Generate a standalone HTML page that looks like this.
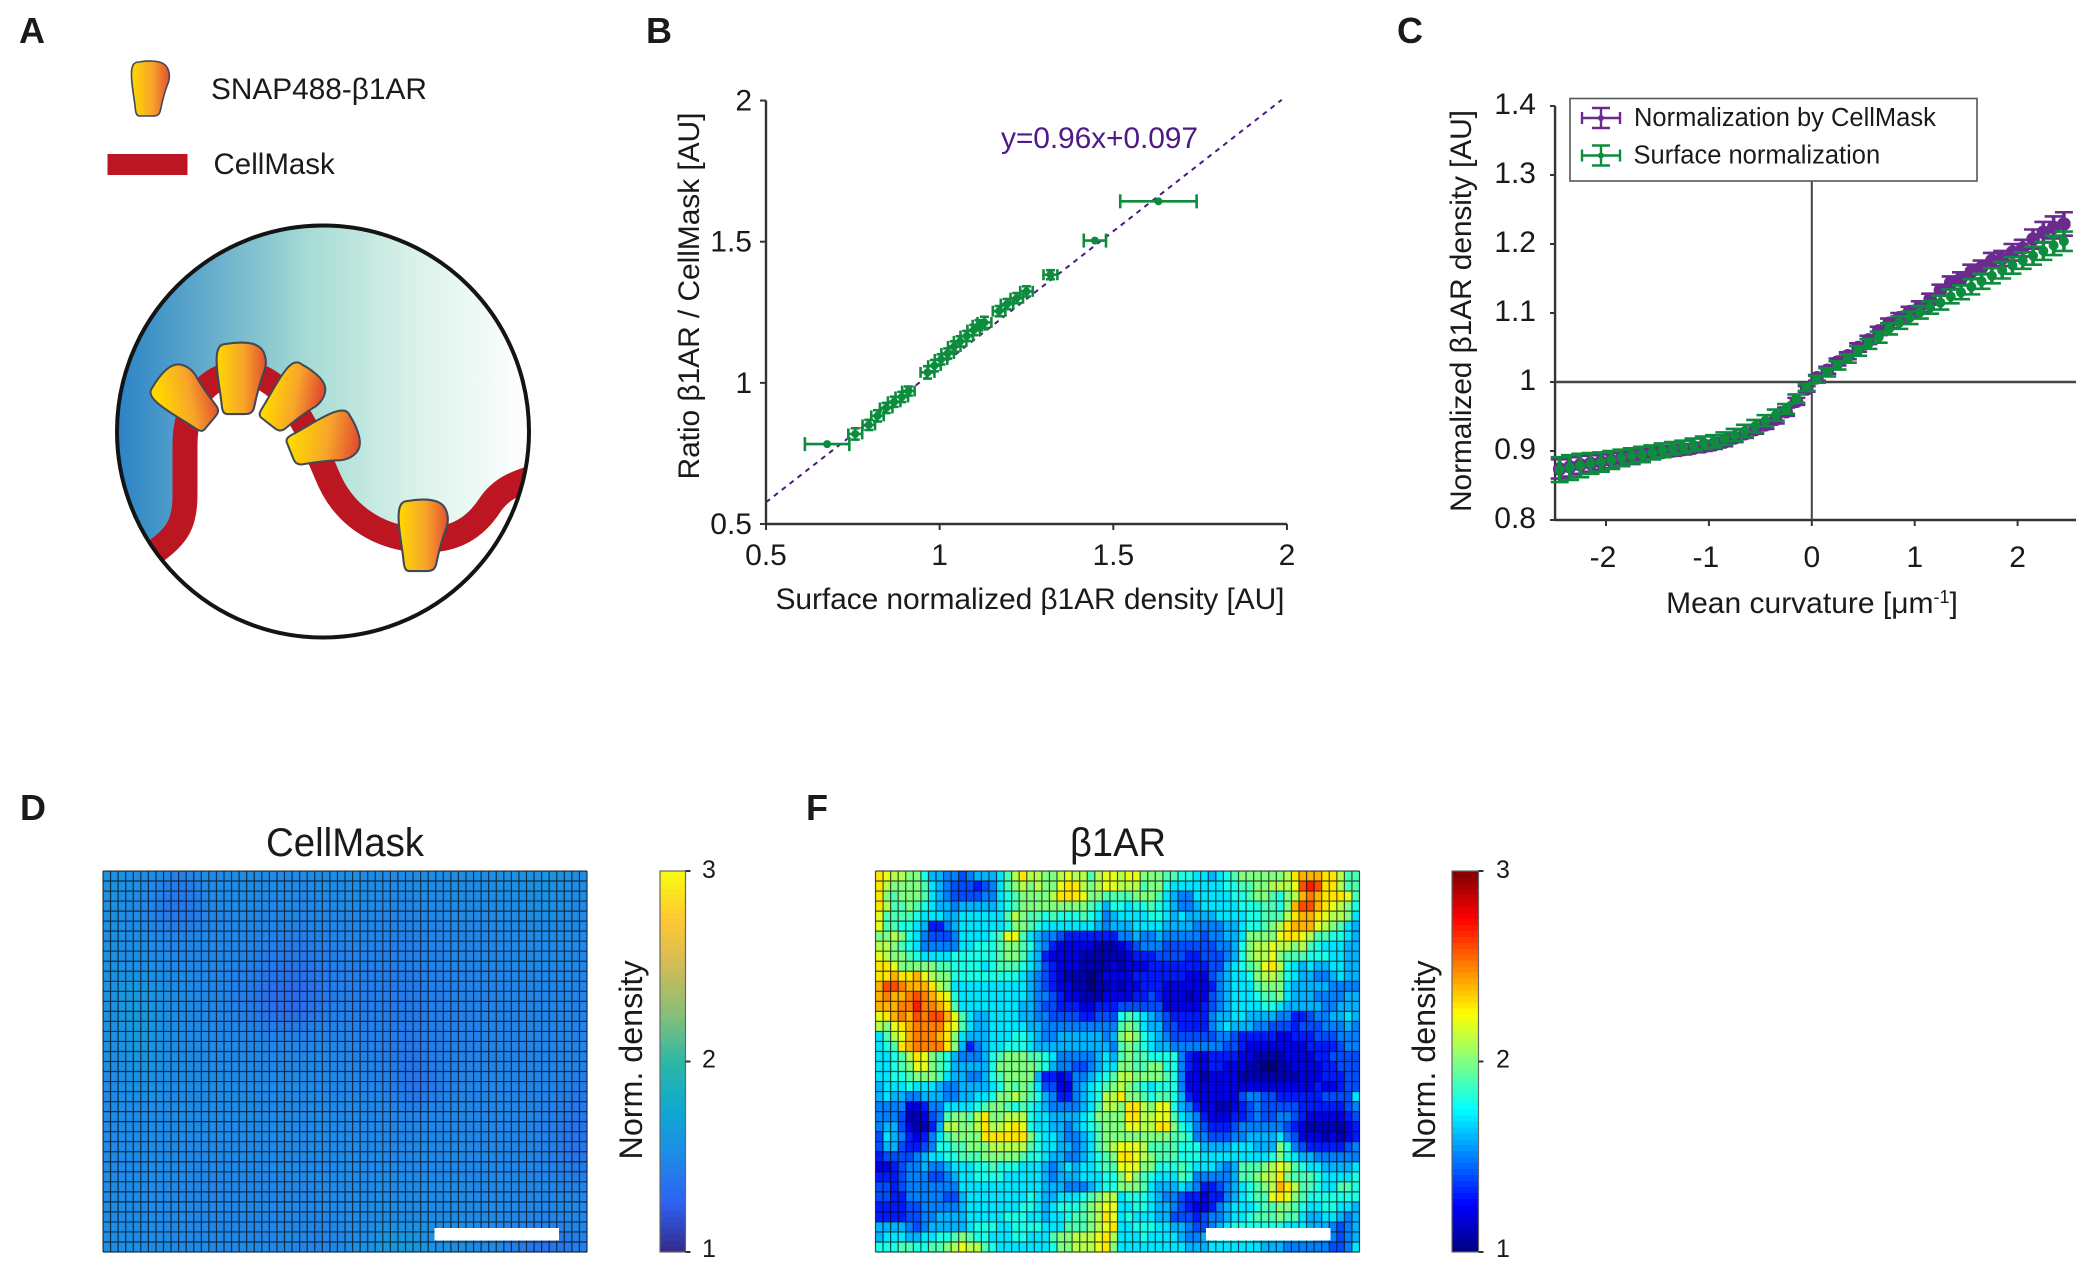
<!DOCTYPE html>
<html lang="en">
<head>
<meta charset="utf-8">
<title>SNAP488-β1AR and CellMask curvature figure</title>
<style>
html,body{margin:0;padding:0;background:#fff}
svg{display:block}
text{font-family:"Liberation Sans",sans-serif;fill:#1a1a1a}
.tick{font-size:30px}
.title{font-size:30px}
.panel{font-size:36px;font-weight:bold}
</style>
</head>
<body>
<svg id="figure" xmlns="http://www.w3.org/2000/svg" width="2100" height="1277" viewBox="0 0 2100 1277">
<defs>
<linearGradient id="cellGrad" x1="0" x2="1" y1="0" y2="0">
<stop offset="0" stop-color="#2b83c6"/><stop offset=".25" stop-color="#6cb2cd"/><stop offset=".47" stop-color="#a8dcd5"/><stop offset=".74" stop-color="#dcf3ea"/><stop offset="1" stop-color="#ffffff"/>
</linearGradient>
<linearGradient id="rg0" x1="0" x2="1" y1="0" y2="0"><stop offset="0" stop-color="#ffd800"/><stop offset=".55" stop-color="#f7a52a"/><stop offset="1" stop-color="#e4502f"/></linearGradient>
<linearGradient id="rgL" x1="0" x2="1" y1="0" y2="0" gradientTransform="rotate(50 .5 .5)"><stop offset="0" stop-color="#ffd800"/><stop offset=".55" stop-color="#f7a52a"/><stop offset="1" stop-color="#e4502f"/></linearGradient>
<linearGradient id="rgR" x1="0" x2="1" y1="0" y2="0" gradientTransform="rotate(-38 .5 .5)"><stop offset="0" stop-color="#ffd800"/><stop offset=".55" stop-color="#f7a52a"/><stop offset="1" stop-color="#e4502f"/></linearGradient>
<linearGradient id="rgS" x1="0" x2="1" y1="0" y2="0" gradientTransform="rotate(-68 .5 .5)"><stop offset="0" stop-color="#ffd800"/><stop offset=".55" stop-color="#f7a52a"/><stop offset="1" stop-color="#e4502f"/></linearGradient>
<clipPath id="cellClip"><circle cx="323" cy="431.5" r="206"/></clipPath>
<path id="receptor" d="M-12,-27 C-4,-28.5 6,-28.5 11,-26 C18,-23 19.5,-14 17.5,-7 C15,-1 11.5,11 9.5,21 C8.5,26 6,27 2,27 L-11,27 C-14,27 -15,25 -15.5,21 C-17,6 -20,-5 -19.5,-17 C-19,-24 -17,-27 -12,-27 Z" stroke="#3f4a55" stroke-width="1.6"/>
</defs>

<g>
<text class="panel" x="19" y="43">A</text>
<use href="#receptor" fill="url(#rg0)" transform="translate(151,89)"/>
<text x="211" y="99" font-size="29.8">SNAP488-β1AR</text>
<rect x="107.5" y="154" width="80" height="21" fill="#bc1622"/>
<text x="213.5" y="174" font-size="29.5">CellMask</text>
<g clip-path="url(#cellClip)">
<rect x="117" y="225" width="412" height="413" fill="url(#cellGrad)"/>
<path d="M138,565 L160,548 C178,534 185,522 185,495 L185,445 C185,405 205,375 240,373 C275,373 295,405 312,440 L327,475 C345,520 385,540 425,540 C455,540 475,528 490,505 C500,490 515,482 540,476 L560,700 L100,700 Z" fill="#fff"/>
<path d="M138,565 L160,548 C178,534 185,522 185,495 L185,445 C185,405 205,375 240,373 C275,373 295,405 312,440 L327,475 C345,520 385,540 425,540 C455,540 475,528 490,505 C500,490 515,482 540,476" fill="none" stroke="#bc1622" stroke-width="25"/>
</g>
<use href="#receptor" fill="url(#rgL)" transform="translate(188,397) rotate(-50) scale(1.24)"/>
<use href="#receptor" fill="url(#rg0)" transform="translate(242,379) scale(1.3)"/>
<use href="#receptor" fill="url(#rgR)" transform="translate(293,400) rotate(38) scale(1.24)"/>
<use href="#receptor" fill="url(#rgS)" transform="translate(324,443) rotate(68) scale(1.27)"/>
<use href="#receptor" fill="url(#rg0)" transform="translate(424,536) scale(1.3)"/>
<circle cx="323" cy="431.5" r="206" fill="none" stroke="#141414" stroke-width="4"/>
</g>

<g id="panelB">
<text class="panel" x="646" y="43">B</text>
<text class="title" x="1030" y="609" text-anchor="middle" textLength="509">Surface normalized β1AR density [AU]</text>
<text class="title" transform="translate(699,296) rotate(-90)" text-anchor="middle" textLength="367">Ratio β1AR / CellMask [AU]</text>
<text x="1001" y="148" font-size="30" style="fill:#4f1a85" textLength="197">y=0.96x+0.097</text>
</g>

<g id="panelC">
<text class="panel" x="1397" y="43">C</text>
<text class="title" x="1812" y="613" text-anchor="middle">Mean curvature [μm<tspan dy="-10" font-size="18">-1</tspan><tspan dy="10">]</tspan></text>
<text class="title" transform="translate(1471,311) rotate(-90)" text-anchor="middle" textLength="402">Normalized β1AR density [AU]</text>
</g>

<g id="panelD">
<text class="panel" x="20" y="820">D</text>
<text x="345" y="856" font-size="40" text-anchor="middle" textLength="158" lengthAdjust="spacingAndGlyphs">CellMask</text>
<text transform="translate(642,1060) rotate(-90)" font-size="32" text-anchor="middle" textLength="199" lengthAdjust="spacingAndGlyphs">Norm. density</text>
</g>

<g id="panelF">
<text class="panel" x="806" y="820">F</text>
<text x="1118" y="856" font-size="40" text-anchor="middle" textLength="96" lengthAdjust="spacingAndGlyphs">β1AR</text>
<text transform="translate(1435,1060) rotate(-90)" font-size="32" text-anchor="middle" textLength="199" lengthAdjust="spacingAndGlyphs">Norm. density</text>
</g>
</svg>

<script>
/* Panel B data */
const scatterSurface=[.676,.757,.796,.821,.846,.869,.891,.91,.965,.985,1.004,1.023,1.042,1.059,1.078,1.098,1.113,1.129,1.171,1.194,1.222,1.25,1.319,1.447,1.63];
const scatterRatio=[.783,.819,.851,.883,.911,.933,.95,.971,1.037,1.061,1.083,1.104,1.129,1.147,1.166,1.187,1.204,1.214,1.254,1.279,1.3,1.324,1.383,1.504,1.643];
const scatterXErr=[.064,.02,.018,.018,.018,.018,.018,.018,.02,.018,.018,.018,.018,.018,.018,.018,.018,.02,.018,.018,.018,.018,.02,.032,.11];
const scatterYErr=[.001,.02,.018,.02,.018,.018,.018,.016,.022,.02,.018,.018,.018,.018,.018,.018,.018,.02,.018,.018,.018,.018,.016,.004,.003];
const fitLineEnds=[.5,1.985];
const fitSlope=.96;
const fitIntercept=.097;
const bTicksX=[.5,1,1.5,2];
const bTicksY=[.5,1,1.5,2];
const bTickLabels=['0.5','1','1.5','2'];

/* Panel C data */
const curvature=[-2.45,-2.35,-2.25,-2.15,-2.05,-1.95,-1.85,-1.75,-1.65,-1.55,-1.45,-1.35,-1.25,-1.15,-1.05,-.95,-.85,-.75,-.65,-.55,-.45,-.35,-.25,-.15,-.05,.05,.15,.25,.35,.45,.55,.65,.75,.85,.95,1.05,1.15,1.25,1.35,1.45,1.55,1.65,1.75,1.85,1.95,2.05,2.15,2.25,2.35,2.45];
const densityCellMask=[.874,.877,.880,.882,.884,.886,.889,.891,.893,.896,.898,.900,.902,.904,.906,.909,.913,.919,.925,.931,.938,.946,.957,.972,.990,1.006,1.017,1.029,1.038,1.050,1.061,1.074,1.085,1.093,1.102,1.109,1.120,1.133,1.144,1.150,1.160,1.166,1.176,1.179,1.188,1.194,1.207,1.217,1.224,1.229];
const errCellMask=[.014,.014,.013,.012,.011,.011,.010,.010,.009,.008,.007,.007,.007,.006,.006,.006,.006,.006,.006,.006,.006,.006,.006,.005,.004,.004,.005,.005,.005,.006,.006,.006,.007,.007,.007,.008,.008,.008,.009,.009,.010,.010,.011,.011,.012,.012,.014,.015,.016,.017];
const densitySurface=[.873,.876,.879,.882,.884,.887,.890,.893,.895,.898,.901,.904,.906,.909,.912,.914,.918,.923,.929,.936,.944,.952,.961,.976,.992,1.004,1.014,1.024,1.034,1.045,1.055,1.065,1.077,1.086,1.093,1.101,1.108,1.115,1.124,1.130,1.138,1.146,1.154,1.162,1.169,1.176,1.183,1.190,1.198,1.204];
const errSurface=[.018,.018,.017,.015,.014,.013,.012,.011,.011,.010,.010,.009,.009,.009,.009,.009,.009,.009,.009,.009,.008,.008,.007,.006,.005,.005,.006,.006,.006,.007,.007,.008,.008,.009,.009,.009,.009,.010,.010,.010,.011,.011,.011,.012,.012,.012,.013,.013,.014,.014];
const cTicksX=[-2,-1,0,1,2];
const cTicksY=[.8,.9,1,1.1,1.2,1.3,1.4];
const cTickLabelsX=['-2','-1','0','1','2'];
const cTickLabelsY=['0.8','0.9','1','1.1','1.2','1.3','1.4'];

/* Colorbar ticks */
const cbarTicks=[1,2,3];
const cbarLabels=['1','2','3'];

/* Panel D: density above 1, in hundredths */
const cellMaskDensity=[
[58,57,56,55,54,53,52,50,47,45,45,47,49,51,52,52,52,53,53,52,52,52,52,52,51,51,50,50,52,52,53,53,53,53,52,52,52,51,51,51,51,52,52,52,53,53,53,53,53,53,54,54,55,55,56,57,57,58,60,59,57,55,54,53],
[57,56,55,54,54,52,50,46,43,41,41,43,46,49,51,52,52,52,52,51,51,51,51,51,50,50,50,50,51,51,51,51,52,52,52,52,51,50,50,50,50,51,51,51,52,52,52,52,52,52,52,53,53,54,55,55,55,56,57,57,55,54,53,52],
[56,55,54,53,52,50,47,44,41,40,40,41,44,47,49,50,51,51,51,50,50,50,50,50,50,50,49,49,50,50,51,51,51,51,51,50,50,49,49,49,49,50,50,50,51,51,51,51,51,51,51,52,52,53,53,54,54,54,55,55,54,53,52,52],
[55,54,53,52,51,49,46,43,40,39,39,40,43,46,48,49,50,50,50,50,49,49,49,49,49,49,48,48,49,49,50,50,50,50,50,50,49,49,48,48,48,49,49,50,50,50,50,50,50,50,50,51,51,52,52,53,53,53,54,54,53,52,52,51],
[54,54,53,52,51,49,46,43,41,40,40,41,44,47,48,49,49,50,50,49,49,48,48,48,48,48,47,47,48,48,49,49,49,49,49,49,48,48,47,47,47,48,48,49,49,50,50,50,50,50,50,50,51,51,52,52,52,53,53,53,52,52,51,51],
[54,53,53,52,51,50,48,46,44,43,43,44,46,48,49,49,49,49,49,49,48,48,47,47,46,46,46,46,47,47,48,48,48,48,48,48,47,47,46,46,46,47,47,48,48,49,49,49,49,49,49,50,50,50,51,51,51,52,52,52,52,51,51,50],
[54,54,53,52,52,51,50,48,47,46,46,47,48,49,49,49,49,49,48,48,47,47,46,45,44,44,44,45,46,46,47,47,47,47,47,47,46,46,45,45,45,46,46,47,47,48,48,48,48,48,48,49,49,50,50,50,50,51,51,51,51,51,50,50],
[55,54,54,53,53,52,51,50,49,48,48,49,49,49,49,49,48,48,47,47,46,45,44,43,42,42,42,43,44,45,46,46,46,46,46,46,45,45,44,44,44,45,45,46,46,47,47,47,48,48,48,48,49,49,49,50,50,50,50,50,50,50,50,49],
[55,55,54,54,54,53,52,51,50,49,49,49,49,49,49,48,48,47,46,45,44,43,42,41,40,40,40,41,42,43,44,45,45,45,45,45,44,44,44,44,44,44,45,45,46,46,47,47,47,47,47,48,48,48,49,49,49,49,50,50,50,49,49,49],
[56,56,55,55,55,54,53,52,51,50,50,49,49,49,48,48,47,46,45,44,43,41,40,38,37,37,38,39,41,42,43,44,44,44,44,44,44,43,43,43,43,44,44,45,45,46,46,47,47,47,47,47,48,48,48,49,49,49,49,49,49,49,49,48],
[57,57,57,57,56,55,54,53,52,51,50,50,49,49,48,47,46,45,44,43,41,39,37,36,35,35,36,38,40,41,43,44,44,44,44,43,43,43,43,42,42,43,44,44,45,45,46,46,46,47,47,47,47,48,48,48,48,49,49,49,49,48,48,48],
[58,58,59,60,60,59,57,55,53,52,51,50,49,49,48,47,46,44,43,42,40,37,35,34,33,33,34,36,38,41,43,44,44,44,43,43,43,42,42,42,42,42,43,44,44,45,45,46,46,46,46,47,47,47,47,48,48,48,48,48,48,48,48,47],
[58,58,60,61,61,60,58,56,54,52,51,50,50,49,48,47,46,44,43,41,39,36,34,33,32,32,34,36,38,40,42,43,43,43,43,42,42,42,41,41,41,42,42,43,44,44,45,45,46,46,46,46,46,47,47,47,47,47,48,48,48,48,47,47],
[57,58,60,62,62,61,59,56,54,52,51,51,50,49,48,47,46,45,44,42,40,37,35,33,32,32,34,37,39,41,43,44,44,43,43,43,42,42,42,42,42,42,42,43,43,44,44,45,45,46,46,46,46,46,47,47,47,47,47,47,47,47,47,47],
[56,57,59,62,62,61,59,56,54,53,52,51,50,49,48,48,47,46,45,44,42,40,38,37,36,36,38,40,41,43,44,45,45,44,44,43,43,43,42,42,42,42,42,43,43,44,44,45,45,45,46,46,46,46,46,47,47,47,47,47,47,47,47,47],
[55,56,58,61,63,62,59,56,54,53,52,51,50,49,49,48,48,47,46,45,44,43,42,41,41,41,42,43,44,45,45,46,45,45,44,44,43,43,42,41,41,41,42,42,43,44,44,45,45,45,46,46,46,46,46,47,47,47,47,47,47,47,47,46],
[54,55,57,60,62,61,59,56,54,53,52,51,51,50,49,49,48,48,47,47,46,45,45,45,45,45,45,45,46,46,46,46,46,45,45,44,44,43,42,41,40,41,41,42,43,44,44,45,45,45,46,46,46,46,46,46,47,47,47,47,47,47,46,46],
[54,54,56,59,61,60,58,56,54,53,52,52,51,50,50,49,49,49,48,48,48,47,47,47,47,47,47,47,47,47,47,47,46,46,45,45,44,43,42,41,40,40,41,42,43,44,45,45,45,46,46,46,46,46,46,46,47,47,47,47,47,46,46,46],
[53,54,55,58,60,59,58,55,54,53,52,52,51,51,50,50,50,49,49,49,49,48,48,48,48,48,48,48,48,48,48,47,47,46,46,45,44,43,42,40,39,39,40,41,43,44,45,45,46,46,46,46,46,46,46,47,47,47,47,47,47,47,46,46],
[53,53,54,56,58,58,56,55,53,53,52,52,52,51,51,50,50,50,50,50,49,49,49,49,49,49,49,49,49,49,48,48,47,47,46,46,45,44,42,40,38,38,39,41,43,44,45,46,46,46,46,46,47,47,47,47,47,47,47,47,47,46,46,45],
[52,53,54,55,56,56,55,54,53,52,52,52,52,51,51,51,50,50,50,50,50,50,50,50,50,50,49,49,49,49,49,48,48,47,47,46,45,44,42,40,38,37,38,40,43,44,45,46,46,47,47,47,47,47,47,47,47,47,47,47,46,45,44,43],
[52,52,53,54,54,54,54,53,53,52,52,52,52,51,51,51,51,51,50,50,50,50,50,50,50,50,50,50,49,49,49,49,48,48,47,47,46,45,43,41,38,37,38,40,43,45,46,46,47,47,47,47,47,47,47,47,47,47,47,46,45,44,43,42],
[51,52,52,53,53,53,53,53,52,52,52,52,52,51,51,51,51,51,51,50,50,50,50,50,50,50,50,50,50,49,49,49,49,48,48,47,47,46,45,43,41,40,41,43,45,46,46,47,47,47,47,47,47,47,47,47,47,47,46,46,44,43,42,41],
[51,51,52,52,52,52,52,52,52,52,52,52,51,51,51,51,51,51,51,51,50,50,50,50,50,50,50,50,50,50,49,49,49,49,48,48,48,47,46,45,44,44,45,46,46,47,47,47,47,47,47,47,47,47,47,47,47,46,46,45,43,41,40,40],
[50,51,51,51,52,52,52,52,52,52,52,51,51,51,51,51,51,51,51,51,51,50,50,50,50,50,50,50,50,50,50,49,49,49,49,48,48,48,47,47,47,47,47,47,47,48,48,48,48,48,47,47,47,47,47,47,47,46,46,44,42,40,39,39],
[50,50,51,51,51,51,51,51,51,51,51,51,51,51,50,50,50,50,50,50,50,50,50,50,50,50,50,50,50,50,50,50,49,49,49,49,48,48,48,48,48,48,48,48,48,48,48,48,48,48,48,48,47,47,47,47,47,46,45,44,41,39,38,38],
[50,50,50,51,51,51,51,51,51,51,51,50,50,50,50,50,50,50,50,50,50,50,50,50,50,50,50,50,50,50,50,50,50,49,49,49,49,49,48,48,48,48,48,48,48,49,49,49,49,49,48,48,48,48,47,47,47,46,45,43,41,38,38,38],
[50,50,50,50,50,50,50,50,51,51,50,50,50,50,50,50,50,50,50,50,50,50,50,50,50,50,50,50,50,50,50,50,50,50,49,49,49,49,49,49,49,49,49,49,49,49,49,49,49,49,48,48,48,48,48,47,47,46,45,44,41,39,38,39],
[50,50,50,50,50,50,50,50,50,50,50,49,49,49,49,49,49,49,50,50,50,50,50,50,50,50,50,50,50,50,50,50,50,50,50,50,50,49,49,49,49,49,49,49,49,49,49,49,49,49,49,49,48,48,48,48,47,46,46,44,42,40,39,40],
[50,50,50,50,50,50,50,50,50,50,50,49,49,49,49,49,49,49,49,49,49,50,50,50,50,50,50,50,50,50,50,50,50,50,50,50,50,50,50,49,49,49,49,49,49,49,49,49,49,49,49,49,49,48,48,48,48,47,46,45,43,41,41,42],
[50,50,50,50,50,50,50,50,50,50,50,49,49,49,48,48,48,49,49,49,49,49,49,49,49,50,50,50,50,50,50,50,50,50,50,50,50,50,50,50,50,50,50,49,49,49,49,49,49,49,49,49,49,49,49,48,48,47,47,46,45,44,44,45],
[51,51,51,51,50,50,50,50,50,50,49,49,48,48,47,47,48,48,48,48,49,49,49,49,49,49,49,49,50,50,50,50,50,50,50,50,50,50,50,50,51,51,50,50,50,50,50,50,50,49,49,49,49,49,49,49,48,48,48,47,46,46,46,47],
[51,51,51,51,51,50,50,50,50,50,49,49,48,47,47,47,47,48,48,48,49,49,49,49,49,49,49,49,49,50,50,50,50,51,51,51,51,51,51,51,51,51,51,51,50,50,50,50,50,50,50,49,49,49,49,49,49,49,48,48,48,48,48,48],
[52,52,52,51,51,51,50,50,50,50,49,49,48,48,47,47,47,48,48,48,48,49,49,49,49,49,49,49,49,49,50,50,50,51,51,51,51,51,51,51,51,51,51,51,51,51,51,51,50,50,50,50,50,49,49,48,48,48,48,48,48,48,49,49],
[52,52,52,52,51,51,51,50,50,50,50,49,49,48,48,48,48,48,48,48,48,49,49,49,49,49,48,48,48,48,49,50,50,51,51,52,52,52,52,52,52,52,52,52,52,52,51,51,51,50,50,50,49,49,48,47,46,46,46,46,47,47,48,49],
[53,53,53,52,52,51,51,51,50,50,50,49,49,49,48,48,48,48,48,48,49,49,49,49,49,48,48,47,47,47,48,49,50,51,52,53,54,55,56,56,56,55,54,54,54,53,53,52,52,51,50,50,49,48,47,46,45,44,44,44,45,46,47,48],
[53,53,53,53,52,52,51,51,51,50,50,50,49,49,49,49,49,49,49,49,49,49,49,49,49,48,48,47,46,47,48,49,50,52,53,55,57,59,60,60,59,58,57,56,55,55,54,53,52,51,51,50,49,47,44,42,40,39,38,38,39,41,44,46],
[54,54,53,53,53,52,52,51,51,51,50,50,50,50,49,49,49,49,50,50,50,49,49,49,49,48,48,47,46,47,48,49,51,53,54,56,58,60,61,61,60,59,58,57,56,55,54,53,52,52,51,50,49,46,43,41,39,38,37,37,38,40,43,45]
];

/* Panel F: density in tenths */
const betaDensity=[
[23,22,21,21,20,20,18,16,16,15,15,14,15,16,16,16,17,19,21,23,21,21,20,20,21,22,21,21,19,21,22,22,21,22,22,20,20,20,19,19,18,18,17,17,16,17,18,19,20,20,20,20,20,20,21,23,24,24,24,23,23,21,19,19],
[23,21,20,20,20,20,19,17,16,15,14,14,14,13,14,15,17,19,20,21,20,21,20,20,22,23,23,21,20,21,22,22,21,21,21,19,20,20,18,17,17,17,17,17,17,17,18,18,19,19,20,20,21,21,21,22,26,27,26,23,23,21,19,19],
[23,20,19,20,20,20,19,17,16,15,14,14,14,14,15,15,17,18,19,20,20,20,20,21,23,23,23,22,20,20,19,19,19,19,20,20,20,19,17,16,15,15,17,17,17,17,17,18,18,19,20,20,19,18,20,21,24,25,24,23,23,23,22,19],
[23,21,19,19,20,19,18,17,16,16,15,16,16,16,16,16,17,18,19,20,20,20,20,20,20,20,20,20,19,18,16,18,18,17,18,18,19,18,17,16,15,15,16,17,17,17,17,17,18,18,18,19,19,18,20,24,26,26,24,23,22,21,20,18],
[22,19,19,19,19,18,17,17,17,16,16,17,17,17,17,17,17,19,21,20,19,19,18,19,18,18,18,19,18,17,15,16,17,17,17,17,18,18,17,16,17,16,16,16,16,17,17,17,17,18,18,19,19,19,21,23,24,24,23,22,21,21,20,17],
[22,19,19,18,18,17,16,13,13,15,16,17,17,17,17,17,17,18,20,20,19,18,17,17,17,17,17,17,17,16,15,16,16,16,17,17,17,17,16,16,16,16,15,15,15,15,16,16,17,18,18,19,20,21,23,24,24,24,22,21,20,19,17,16],
[20,20,21,20,18,17,15,14,14,14,15,17,17,17,17,18,19,22,22,19,17,16,15,15,14,13,13,13,13,13,13,13,15,15,16,15,15,16,15,15,15,15,15,14,15,15,16,16,17,20,20,20,20,22,23,23,22,21,19,19,18,18,17,16],
[21,21,20,19,18,17,15,15,15,15,15,17,17,18,18,18,19,20,20,19,18,16,15,13,12,12,12,12,12,11,11,11,12,13,14,15,15,15,14,14,14,14,14,14,14,15,15,16,18,20,21,21,22,21,21,20,21,19,18,17,17,17,16,16],
[22,21,20,20,19,18,17,17,17,17,18,18,18,18,18,18,19,20,20,19,17,16,13,12,12,12,12,11,11,11,11,11,11,12,13,13,13,14,14,14,14,13,13,14,14,14,15,16,18,20,21,21,22,20,19,19,19,18,18,18,17,17,16,16],
[23,23,22,20,20,20,20,20,19,19,18,18,18,18,17,18,19,19,19,18,17,16,14,13,12,12,12,11,11,11,11,12,11,12,12,12,13,13,13,13,13,13,13,13,14,14,16,17,18,19,20,22,23,21,18,17,16,17,16,16,17,17,16,16],
[23,23,24,23,23,24,22,21,20,20,18,18,18,18,18,18,18,18,18,17,16,15,14,13,12,11,11,11,10,11,12,12,12,12,13,13,13,13,13,13,13,12,12,12,14,15,16,17,17,18,20,21,21,20,18,17,16,16,15,15,16,17,16,16],
[24,26,26,25,24,24,24,23,21,20,17,17,17,17,17,17,17,17,17,17,16,15,14,13,12,12,11,11,10,11,11,12,11,12,12,13,13,13,12,12,12,12,12,12,13,15,16,17,17,17,19,20,20,20,17,16,16,16,16,16,15,15,15,15],
[24,25,24,24,25,26,25,24,23,22,18,17,17,17,17,17,17,17,17,17,16,15,15,14,13,12,12,11,11,11,12,12,12,12,13,13,14,13,12,12,12,11,12,12,14,15,16,17,17,17,18,19,19,20,17,16,16,16,15,15,15,15,16,16],
[24,24,24,25,25,27,25,25,24,23,19,17,17,17,17,17,17,17,17,16,16,15,14,14,13,13,13,12,12,13,13,13,14,14,14,14,14,14,12,12,12,12,12,13,14,15,16,17,17,17,17,18,18,17,16,16,16,16,16,15,15,16,16,16],
[22,23,24,25,24,26,25,26,26,24,22,19,17,16,16,17,17,17,17,16,16,15,15,14,14,14,14,13,13,14,14,14,18,19,18,17,16,15,14,13,13,13,13,13,15,16,16,17,17,16,16,16,16,15,15,13,13,14,15,15,16,16,17,16],
[21,20,22,23,24,25,25,25,25,23,22,19,17,16,16,17,17,17,17,17,16,16,15,15,15,15,15,15,15,15,15,15,19,20,19,17,16,16,14,14,13,13,13,13,15,16,17,16,16,16,15,15,14,14,14,13,14,14,14,15,15,15,16,15],
[17,19,21,22,24,25,25,25,24,23,20,17,16,16,16,17,17,17,18,18,17,16,15,15,16,16,16,16,16,16,15,16,20,21,20,18,17,16,15,14,14,14,14,14,14,15,15,14,13,13,13,13,13,12,12,13,13,13,14,14,14,15,15,15],
[17,18,19,23,24,25,25,25,25,23,20,16,13,15,16,17,17,18,18,18,17,16,16,16,16,16,16,16,16,16,16,15,19,20,19,18,17,16,16,15,15,15,15,15,15,15,14,14,13,12,12,12,12,12,12,12,12,13,13,13,13,14,15,15],
[17,17,18,19,21,23,22,20,19,18,16,15,15,15,16,18,19,20,20,20,19,19,18,17,15,15,15,15,15,16,17,16,19,20,19,19,18,18,18,18,15,13,12,12,13,13,13,13,12,12,11,11,11,11,12,12,12,12,13,13,14,14,14,14],
[17,17,18,19,20,22,22,20,19,18,16,16,16,16,16,18,20,20,20,20,20,19,18,16,15,15,14,14,15,16,17,17,20,20,19,19,20,20,18,18,15,13,12,12,13,13,12,12,12,11,11,10,10,11,11,12,12,12,12,13,13,14,14,14],
[17,17,18,18,19,20,20,20,19,17,16,16,15,15,16,18,19,20,20,20,20,16,13,13,12,13,15,15,16,17,18,19,21,21,20,20,20,20,19,18,15,12,12,11,12,12,12,12,11,11,11,11,11,11,11,11,12,12,12,13,13,13,14,14],
[16,17,17,17,18,17,17,17,16,15,15,16,16,16,16,17,18,20,19,20,19,17,14,14,12,12,15,16,17,18,19,20,21,20,19,18,17,18,18,18,15,12,12,12,12,12,12,12,12,12,12,12,12,12,12,12,12,12,13,12,12,13,14,14],
[16,17,16,16,15,15,16,16,16,15,15,16,16,17,17,18,20,20,21,20,19,18,16,15,13,13,15,16,17,18,21,21,23,20,20,19,18,19,19,18,16,13,12,12,12,12,12,12,14,15,15,14,14,13,13,13,13,13,13,14,14,14,14,17],
[15,15,15,15,12,12,13,15,15,17,17,17,17,18,19,20,20,19,18,19,18,17,16,15,15,15,15,16,17,19,21,21,20,23,23,21,20,22,22,18,16,15,13,12,12,11,11,12,13,14,15,14,14,14,14,14,13,13,13,13,13,13,14,15],
[15,15,15,14,11,11,12,14,15,19,20,20,19,21,23,20,20,21,21,21,18,17,17,16,16,16,16,17,18,20,20,20,20,23,23,21,21,22,22,19,17,16,15,13,12,12,12,13,13,14,15,14,14,15,15,14,13,12,12,12,12,12,13,14],
[15,16,16,14,12,11,11,13,16,21,21,20,20,21,23,21,21,22,23,22,18,17,17,16,16,15,16,17,18,19,20,20,20,22,22,21,21,23,23,20,18,17,15,14,13,13,13,14,15,15,15,15,15,15,14,13,12,11,11,11,11,11,12,13],
[14,17,16,15,13,12,13,15,17,19,20,20,20,20,23,23,23,23,23,23,20,18,17,17,16,15,15,16,17,19,20,20,20,20,20,20,20,20,20,19,19,18,15,15,14,14,14,15,15,16,16,16,16,17,15,14,12,12,12,11,12,11,12,13],
[14,16,16,14,13,13,14,15,18,18,19,19,20,20,20,21,21,21,21,21,19,18,17,17,16,16,15,16,17,19,20,21,22,22,22,21,19,19,19,19,18,18,18,16,16,16,16,17,17,17,16,16,16,20,18,15,14,13,13,13,13,13,14,15],
[13,14,14,14,14,15,16,17,17,18,18,19,19,19,20,20,20,20,20,19,18,18,17,16,16,15,15,16,17,18,19,20,23,23,22,21,20,19,19,19,18,18,18,17,17,17,17,17,17,17,17,17,18,20,18,17,16,16,15,15,15,15,15,15],
[12,12,13,14,15,15,16,15,15,16,17,17,17,18,18,19,18,18,18,17,17,17,16,15,16,17,16,17,17,18,19,19,22,22,22,20,20,18,18,18,19,18,17,17,17,16,15,16,19,19,19,20,21,22,21,19,18,17,17,16,16,16,16,17],
[13,13,13,14,15,15,15,14,14,15,16,17,17,18,18,18,18,17,17,17,17,17,16,15,16,16,16,17,17,17,18,18,20,22,20,19,18,17,17,17,19,18,15,15,15,15,15,16,19,19,20,21,21,23,20,19,19,19,18,17,17,17,17,18],
[14,14,13,14,15,15,15,15,15,15,15,17,17,17,17,17,17,17,17,17,17,17,16,16,16,15,15,15,16,17,18,18,20,20,20,19,17,16,16,16,17,16,15,13,13,14,15,16,17,18,19,20,21,24,23,21,19,19,18,17,17,19,19,18],
[14,14,13,13,15,15,15,15,15,14,14,16,17,17,17,17,17,17,17,17,18,17,16,16,17,17,17,18,19,20,21,21,17,18,18,18,17,16,15,15,14,13,13,12,13,13,15,16,17,18,19,19,22,23,22,20,19,18,18,18,18,18,18,18],
[13,13,13,13,14,14,15,15,15,15,15,16,17,17,17,17,17,17,17,18,18,17,16,17,18,18,18,19,20,21,22,22,17,17,18,18,17,16,16,15,14,13,12,12,13,15,16,17,17,17,18,19,19,20,20,19,18,17,17,18,18,17,17,16],
[13,13,13,13,14,14,15,15,16,16,16,16,17,17,17,17,17,18,18,18,17,17,16,17,17,18,19,19,20,21,23,22,17,18,17,17,17,16,16,14,14,14,13,14,15,15,16,17,17,18,19,19,19,20,19,19,17,16,16,17,17,16,15,16],
[16,16,16,16,15,14,15,16,16,16,16,16,17,18,18,18,17,17,18,18,18,18,17,17,17,19,19,19,20,21,22,23,17,17,18,18,18,17,17,16,16,15,14,14,15,16,17,18,18,18,18,18,18,18,17,17,17,16,16,16,15,14,15,16],
[16,17,17,17,16,16,17,17,18,18,19,20,19,18,18,17,17,17,18,18,17,17,17,19,20,20,21,21,21,22,23,21,17,17,17,18,17,17,17,17,16,15,15,16,16,17,17,17,17,17,16,16,16,16,16,16,16,16,15,15,15,14,15,16],
[18,18,18,19,19,18,18,19,19,20,21,22,21,21,19,18,17,17,17,17,17,17,17,18,20,20,21,21,21,22,23,20,17,17,17,17,17,17,17,17,17,16,16,16,17,17,17,17,17,17,17,16,16,16,15,15,15,15,15,15,14,14,15,17]
];

const SVGNS='http://www.w3.org/2000/svg';
function mk(tag,attrs,parent){
  const el=document.createElementNS(SVGNS,tag);
  for(const k in attrs){el.setAttribute(k,attrs[k]);}
  parent.appendChild(el);
  return el;
}
function seg(parent,x1,y1,x2,y2,stroke,w,name){
  const el=mk('line',{x1:x1,y1:y1,x2:x2,y2:y2,stroke:stroke,'stroke-width':w},parent);
  
  
  return el;
}
function label(parent,x,y,str,anchor,cls,size,name){
  const attrs={x:x,y:y,'text-anchor':anchor};
  if(cls){attrs['class']=cls;}
  if(size){attrs['font-size']=size;}
  const el=mk('text',attrs,parent);
  el.textContent=str;
  
  
  return el;
}

/* ---------- Panel B ---------- */
const xB=v=>766+(v-.5)*347.3;
const yB=v=>524-(v-.5)*282.3;
const gB=document.getElementById('panelB');
const axisCol='#333';
seg(gB,xB(.5),yB(.5),xB(2),yB(.5),axisCol,2.4,'x-axis-line-b');
seg(gB,xB(.5),yB(.5),xB(.5),yB(2),axisCol,2.4,'y-axis-line-b');
bTicksX.forEach((v,i)=>{
  seg(gB,xB(v),yB(.5),xB(v),yB(.5)+6,axisCol,2,'x-tick-b');
  label(gB,xB(v),565,bTickLabels[i],'middle','tick',null,'x-tick-label-b');
});
bTicksY.forEach((v,i)=>{
  seg(gB,xB(.5),yB(v),xB(.5)-6,yB(v),axisCol,2,'y-tick-b');
  label(gB,752,yB(v)+10,bTickLabels[i],'end','tick',null,'y-tick-label-b');
});
const fitLine=seg(gB,xB(fitLineEnds[0]),yB(fitSlope*fitLineEnds[0]+fitIntercept),xB(fitLineEnds[1]),yB(fitSlope*fitLineEnds[1]+fitIntercept),'#4b1a80',2,'fit-line');
fitLine.setAttribute('stroke-dasharray','5 5');
const green='#0e8c3e';
const purple='#6a2a8e';
scatterSurface.forEach((x,i)=>{
  const y=scatterRatio[i], ex=scatterXErr[i], ey=scatterYErr[i];
  const g=mk('g',{},gB);
  
  
  const capX=ex>.03?7:5.5;
  seg(g,xB(x-ex),yB(y),xB(x+ex),yB(y),green,2.6,'x-error-bar');
  seg(g,xB(x-ex),yB(y)-capX,xB(x-ex),yB(y)+capX,green,2.6,'x-error-cap');
  seg(g,xB(x+ex),yB(y)-capX,xB(x+ex),yB(y)+capX,green,2.6,'x-error-cap');
  if(ey>.005){
    seg(g,xB(x),yB(y-ey),xB(x),yB(y+ey),green,2.6,'y-error-bar');
    seg(g,xB(x)-4.5,yB(y-ey),xB(x)+4.5,yB(y-ey),green,2.6,'y-error-cap');
    seg(g,xB(x)-4.5,yB(y+ey),xB(x)+4.5,yB(y+ey),green,2.6,'y-error-cap');
  }
  const c=mk('circle',{cx:xB(x),cy:yB(y),r:4,fill:green},g);
  
  
});

/* ---------- Panel C ---------- */
const xC=v=>1811.8+v*102.9;
const yC=v=>382-(v-1)*690;
const gC=document.getElementById('panelC');
seg(gC,xC(-2.495),yC(.8),2076,yC(.8),axisCol,2.4,'x-axis-line-c');
seg(gC,xC(-2.495),yC(.8),xC(-2.495),yC(1.4),axisCol,2.4,'y-axis-line-c');
seg(gC,xC(0),yC(.8),xC(0),yC(1.4),'#444',2,'zero-curvature-line');
seg(gC,xC(-2.495),yC(1),2076,yC(1),'#444',2.4,'unity-density-line');
cTicksX.forEach((v,i)=>{
  seg(gC,xC(v),yC(.8),xC(v),yC(.8)+6,axisCol,2,'x-tick-c');
  label(gC,xC(v)-(v<0?3:0),567,cTickLabelsX[i],'middle','tick',null,'x-tick-label-c');
});
cTicksY.forEach((v,i)=>{
  seg(gC,xC(-2.495),yC(v),xC(-2.495)-5,yC(v),axisCol,2,'y-tick-c');
  label(gC,1536,yC(v)+8,cTickLabelsY[i],'end','tick',null,'y-tick-label-c');
});
function drawSeries(vals,errs,color,r,name){
  const g=mk('g',{},gC);
  
  
  curvature.forEach((x,i)=>{
    const px=xC(x), lo=yC(vals[i]-errs[i]), hi=yC(vals[i]+errs[i]);
    seg(g,px,lo,px,hi,color,3.6,'error-bar');
    seg(g,px-9,lo,px+9,lo,color,2.6,'error-cap');
    seg(g,px-9,hi,px+9,hi,color,2.6,'error-cap');
    const c=mk('circle',{cx:px,cy:yC(vals[i]),r:r,fill:color},g);
    
    
  });
}
drawSeries(densityCellMask,errCellMask,purple,6.8,'series-cellmask');
drawSeries(densitySurface,errSurface,green,5,'series-surface');

const legendBox=mk('rect',{x:1570,y:98.5,width:407,height:82.5,fill:'#fff',stroke:'#555','stroke-width':1.6},gC);


function legendEntry(y,color,text,name,tx){
  const g=mk('g',{},gC);
  
  
  seg(g,1582,y,1620,y,color,2.4,'legend-x-bar');
  seg(g,1582,y-6,1582,y+6,color,2.4,'legend-x-cap');
  seg(g,1620,y-6,1620,y+6,color,2.4,'legend-x-cap');
  seg(g,1601,y-10,1601,y+10,color,2.4,'legend-y-bar');
  seg(g,1592,y-10,1610,y-10,color,2.4,'legend-y-cap');
  seg(g,1592,y+10,1610,y+10,color,2.4,'legend-y-cap');
  const c=mk('circle',{cx:1601,cy:y,r:3,fill:color},g);
  
  
  label(g,tx,y+8,text,'start',null,25.5,'legend-label');
}
legendEntry(118,purple,'Normalization by CellMask','legend-entry-cellmask',1634);
legendEntry(155.5,green,'Surface normalization','legend-entry-surface',1633.5);

/* ---------- Heatmaps ---------- */
const parulaStops=['#352a87','#2f5ff0','#1f8ae8','#0fa8d0','#2eb7a4','#87bf77','#d1bb59','#fec832','#f9fb0e'];
function hexRgb(h){return [parseInt(h.substr(1,2),16),parseInt(h.substr(3,2),16),parseInt(h.substr(5,2),16)];}
function parula(t){
  t=Math.max(0,Math.min(1,t));
  const p=t*(parulaStops.length-1), i=Math.min(parulaStops.length-2,Math.floor(p)), f=p-i;
  const a=hexRgb(parulaStops[i]), b=hexRgb(parulaStops[i+1]);
  return 'rgb('+a.map((c,k)=>Math.round(c+(b[k]-c)*f)).join(',')+')';
}
function jet(t){
  t=Math.max(0,Math.min(1,t));
  const f=(c)=>Math.round(255*Math.max(0,Math.min(1,1.5-Math.abs(4*t-c))));
  return 'rgb('+f(3)+','+f(2)+','+f(1)+')';
}
function drawHeat(parent,matrix,toValue,colorFn,x0,y0,w,h,name){
  const g=mk('g',{'shape-rendering':'crispEdges'},parent);
  
  
  const rows=matrix.length, cols=matrix[0].length, cw=w/cols, ch=h/rows;
  matrix.forEach((row,r)=>{
    row.forEach((n,c)=>{
      const cell=mk('rect',{x:x0+c*cw,y:y0+r*ch,width:cw+.3,height:ch+.3,fill:colorFn((toValue(n)-1)/2)},g);
      
      
    });
  });
  const lines=mk('g',{opacity:.72},parent);
  
  
  for(let c=0;c<=cols;c++){seg(lines,x0+c*cw,y0,x0+c*cw,y0+h,'#0a0a0a',1.2,'grid-column-line');}
  for(let r=0;r<=rows;r++){seg(lines,x0,y0+r*ch,x0+w,y0+r*ch,'#0a0a0a',1.2,'grid-row-line');}
}
function drawColorbar(parent,colorFn,x0,w,y0,h,lx,name){
  const g=mk('g',{'shape-rendering':'crispEdges'},parent);
  
  
  const levels=64;
  for(let i=0;i<levels;i++){
    const s=mk('rect',{x:x0,y:y0+h-(i+1)*h/levels,width:w,height:h/levels+.4,fill:colorFn((i+.5)/levels)},g);
    
    
  }
  const frame=mk('rect',{x:x0,y:y0,width:w,height:h,fill:'none',stroke:'#666','stroke-width':1.2},parent);
  
  
  const yOf=v=>y0+h-(v-1)/2*h;
  cbarTicks.forEach((v,i)=>{
    seg(parent,x0+w,yOf(v),x0+w+5,yOf(v),'#333',2,'colorbar-tick');
    label(parent,lx,yOf(v)+(v===3?7:(v===1?5:6)),cbarLabels[i],'start',null,25,'colorbar-tick-label');
  });
}
function scaleBar(parent,x,y,w,h){
  const b=mk('rect',{x:x,y:y,width:w,height:h,fill:'#fff'},parent);
  
  
}
const gD=document.getElementById('panelD');
const gF=document.getElementById('panelF');
drawHeat(gD,cellMaskDensity,n=>1+n/100,parula,103,871,484,381,'heatmap-cellmask');
scaleBar(gD,434.5,1228,124.5,12.5);
drawColorbar(gD,parula,660,25.5,871,381,702,'colorbar-parula');
drawHeat(gF,betaDensity,n=>n/10,jet,875.5,871,484,381,'heatmap-beta1ar');
scaleBar(gF,1206,1228,124.5,12.5);
drawColorbar(gF,jet,1452,26.5,871,381,1496,'colorbar-jet');
</script>
</body>
</html>
